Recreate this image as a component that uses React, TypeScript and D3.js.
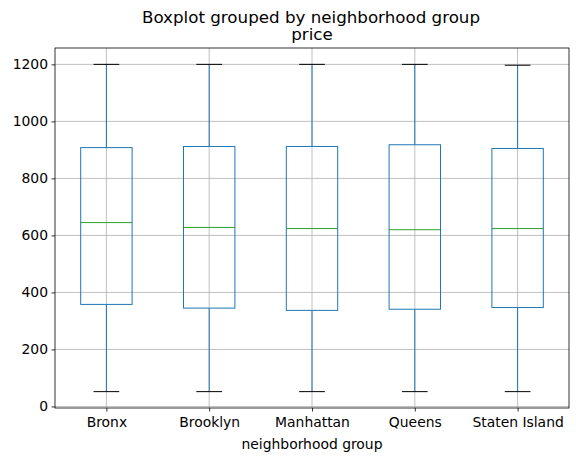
import { useEffect, useRef } from 'react';
import * as d3 from 'd3';

// values
const groups = ['Bronx', 'Brooklyn', 'Manhattan', 'Queens', 'Staten Island'];
const whiskerLow = [52, 52, 52, 52, 52];
const q1 = [358, 345, 337, 341, 347];
const median = [645, 628, 624, 620, 624];
const q3 = [908, 912, 912, 918, 905];
const whiskerHigh = [1200, 1200, 1200, 1200, 1197];
const yTicks = [0, 200, 400, 600, 800, 1000, 1200];

const App = () => {
    const svgRef = useRef<SVGSVGElement>(null);

    useEffect(() => {
        document.body.style.margin = '0';
        const width = 576;
        const height = 461;
        const m = { left: 55, right: 7, top: 48, bottom: 53 };
        const font = 'DejaVu Sans, sans-serif';

        const svg = d3.select(svgRef.current);
        svg.selectAll('*').remove();
        svg.attr('width', width).attr('height', height);

        svg.append('rect').attr('width', width).attr('height', height).attr('fill', 'white');

        const lo = d3.min(whiskerLow) as number;
        const hi = d3.max(whiskerHigh) as number;
        const pad = (hi - lo) * 0.05;

        const x = d3.scaleLinear().domain([0.5, groups.length + 0.5]).range([m.left, width - m.right]);
        const y = d3.scaleLinear().domain([lo - pad, hi + pad]).range([height - m.bottom, m.top]);

        const g = svg.append('g');

        // grid
        g.selectAll('.gy').data(yTicks).enter().append('line')
            .attr('x1', m.left).attr('x2', width - m.right)
            .attr('y1', (d) => y(d)).attr('y2', (d) => y(d))
            .attr('stroke', '#b0b0b0').attr('stroke-width', 0.8);
        g.selectAll('.gx').data(groups).enter().append('line')
            .attr('x1', (_, i) => x(i + 1)).attr('x2', (_, i) => x(i + 1))
            .attr('y1', m.top).attr('y2', height - m.bottom)
            .attr('stroke', '#b0b0b0').attr('stroke-width', 0.8);

        const blue = '#1f77b4';
        const boxHalf = 0.25;
        const capHalf = 0.125;

        groups.forEach((_, i) => {
            const c = i + 1;
            // whiskers
            g.append('line').attr('x1', x(c)).attr('x2', x(c))
                .attr('y1', y(q1[i])).attr('y2', y(whiskerLow[i]))
                .attr('stroke', blue).attr('stroke-width', 1);
            g.append('line').attr('x1', x(c)).attr('x2', x(c))
                .attr('y1', y(q3[i])).attr('y2', y(whiskerHigh[i]))
                .attr('stroke', blue).attr('stroke-width', 1);
            // box
            g.append('rect')
                .attr('x', x(c - boxHalf)).attr('width', x(c + boxHalf) - x(c - boxHalf))
                .attr('y', y(q3[i])).attr('height', y(q1[i]) - y(q3[i]))
                .attr('fill', 'none').attr('stroke', blue).attr('stroke-width', 1);
            // caps
            [whiskerLow[i], whiskerHigh[i]].forEach((v) => {
                g.append('line').attr('x1', x(c - capHalf)).attr('x2', x(c + capHalf))
                    .attr('y1', y(v)).attr('y2', y(v))
                    .attr('stroke', 'black').attr('stroke-width', 1);
            });
            // median
            g.append('line').attr('x1', x(c - boxHalf)).attr('x2', x(c + boxHalf))
                .attr('y1', y(median[i])).attr('y2', y(median[i]))
                .attr('stroke', '#2ca02c').attr('stroke-width', 1);
        });

        // frame
        svg.append('rect')
            .attr('x', m.left).attr('y', m.top)
            .attr('width', width - m.left - m.right).attr('height', height - m.top - m.bottom)
            .attr('fill', 'none').attr('stroke', 'black').attr('stroke-width', 0.8);

        // axes
        const yAxis = svg.append('g').attr('transform', `translate(${m.left},0)`)
            .call(d3.axisLeft(y).tickValues(yTicks).tickSize(3.5).tickPadding(3.5).tickFormat(d3.format('d')));
        const xAxis = svg.append('g').attr('transform', `translate(0,${height - m.bottom})`)
            .call(d3.axisBottom(x).tickValues(groups.map((_, i) => i + 1)).tickSize(3.5).tickPadding(5.5)
                .tickFormat((_, i) => groups[i]));
        [yAxis, xAxis].forEach((a) => {
            a.select('.domain').remove();
            a.selectAll('line').attr('stroke', 'black').attr('stroke-width', 0.8);
            a.selectAll('text').attr('font-family', font).attr('font-size', 13.9).attr('fill', 'black');
        });

        // labels and titles
        svg.append('text').attr('x', (m.left + width - m.right) / 2).attr('y', height - 12)
            .attr('text-anchor', 'middle').attr('font-family', font).attr('font-size', 13.9)
            .text('neighborhood group');
        svg.append('text').attr('x', (m.left + width - m.right) / 2).attr('y', m.top - 8)
            .attr('text-anchor', 'middle').attr('font-family', font).attr('font-size', 16.7)
            .text('price');
        svg.append('text').attr('x', 311).attr('y', 23)
            .attr('text-anchor', 'middle').attr('font-family', font).attr('font-size', 16.7)
            .text('Boxplot grouped by neighborhood group');
    }, []);

    return (
        <div>
            <svg ref={svgRef} style={{ display: 'block' }}></svg>
        </div>
    );
};

export default App;
